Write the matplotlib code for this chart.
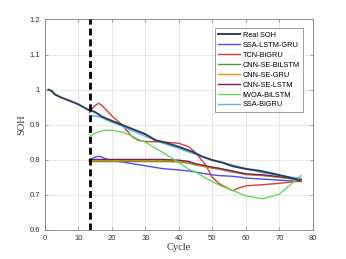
import matplotlib
matplotlib.use("Agg")
import matplotlib.pyplot as plt

real_x = [1, 2, 3, 5, 8, 10, 13, 15, 17, 20, 25, 30, 33, 36, 40, 44, 47, 50, 53, 56, 60, 64, 68, 72, 76]
real_y = [1.0, 0.996, 0.986, 0.977, 0.966, 0.958, 0.942, 0.936, 0.923, 0.911, 0.892, 0.873, 0.856, 0.849, 0.837, 0.823, 0.809, 0.799, 0.792, 0.782, 0.774, 0.769, 0.761, 0.752, 0.742]

px = [13.3, 14, 15, 16, 17, 18, 20, 23, 26, 28, 30, 35, 40, 43, 45, 48, 50, 52, 54, 56, 58, 60, 65, 70, 76.5]

ssa_lstm_gru = [0.795, 0.803, 0.808, 0.81, 0.808, 0.803, 0.797, 0.794, 0.789, 0.786, 0.783, 0.775, 0.771, 0.768, 0.765, 0.76, 0.757, 0.755, 0.754, 0.753, 0.751, 0.748, 0.745, 0.742, 0.738]
tcn_bigru = [0.935, 0.945, 0.955, 0.961, 0.955, 0.945, 0.925, 0.9, 0.866, 0.855, 0.852, 0.851, 0.847, 0.837, 0.82, 0.785, 0.75, 0.732, 0.722, 0.712, 0.72, 0.726, 0.729, 0.733, 0.74]
cnn_se_bilstm = [0.795, 0.795, 0.795, 0.795, 0.795, 0.795, 0.795, 0.795, 0.795, 0.795, 0.795, 0.795, 0.794, 0.79, 0.785, 0.78, 0.776, 0.773, 0.769, 0.765, 0.762, 0.758, 0.755, 0.75, 0.742]
cnn_se_gru = [0.798, 0.798, 0.798, 0.798, 0.798, 0.798, 0.798, 0.798, 0.798, 0.798, 0.798, 0.798, 0.797, 0.793, 0.787, 0.781, 0.778, 0.775, 0.771, 0.767, 0.763, 0.759, 0.756, 0.751, 0.743]
cnn_se_lstm = [0.801, 0.801, 0.801, 0.801, 0.801, 0.801, 0.801, 0.801, 0.801, 0.801, 0.801, 0.801, 0.799, 0.795, 0.789, 0.783, 0.779, 0.776, 0.772, 0.768, 0.764, 0.76, 0.757, 0.752, 0.744]
iwoa_bilstm = [0.866, 0.871, 0.876, 0.879, 0.882, 0.884, 0.884, 0.879, 0.868, 0.858, 0.85, 0.822, 0.792, 0.773, 0.765, 0.748, 0.738, 0.728, 0.72, 0.713, 0.705, 0.697, 0.689, 0.702, 0.755]
ssa_bigru = [0.921, 0.924, 0.925, 0.923, 0.92, 0.915, 0.907, 0.896, 0.883, 0.875, 0.867, 0.848, 0.832, 0.822, 0.816, 0.806, 0.8, 0.795, 0.79, 0.785, 0.78, 0.775, 0.763, 0.755, 0.747]

split_x = 13.3

plt.rcParams['font.family'] = ['Liberation Sans', 'DejaVu Sans']
fig = plt.figure(figsize=(3.46, 2.59), dpi=100)
ax = fig.add_axes([0.130, 0.112, 0.774, 0.813])

lw = 1.0
ax.plot(real_x, real_y, color='#2b405e', lw=1.4, label='Real SOH', zorder=5)
ax.plot(px, ssa_lstm_gru, color='#4b4bff', lw=lw, label='SSA-LSTM-GRU')
ax.plot(px, tcn_bigru, color='#de3a30', lw=lw, label='TCN-BiGRU')
ax.plot(px, cnn_se_bilstm, color='#4e9a2e', lw=lw, label='CNN-SE-BiLSTM')
ax.plot(px, cnn_se_gru, color='#ff8c00', lw=lw, label='CNN-SE-GRU')
ax.plot(px, cnn_se_lstm, color='#7d1a62', lw=lw, label='CNN-SE-LSTM')
ax.plot(px, iwoa_bilstm, color='#62dc55', lw=lw, label='IWOA-BiLSTM')
ax.plot(px, ssa_bigru, color='#62b4e8', lw=lw, label='SSA-BiGRU')
ax.axvline(split_x, color='black', lw=2.0, ls=(0, (2.5, 1.4)), zorder=6)

ax.set_xlim(0, 80)
ax.set_ylim(0.6, 1.2)
ax.set_xticks(range(0, 81, 10))
ax.set_yticks([0.6, 0.7, 0.8, 0.9, 1.0, 1.1, 1.2])
ax.set_yticklabels(['0.6', '0.7', '0.8', '0.9', '1', '1.1', '1.2'])
ax.grid(True, color='#e3e3e3', lw=0.6)
ax.set_axisbelow(True)
ax.tick_params(labelsize=5.5, colors='#808080', labelcolor='#333333', length=2.5, width=0.5,
               direction='in', top=True, right=True)
for s in ax.spines.values():
    s.set_color('#808080')
    s.set_linewidth(0.6)
ax.set_xlabel('Cycle', family=['Liberation Serif'], fontsize=7.5, color='#333333', labelpad=1)
ax.set_ylabel('SOH', family=['Liberation Serif'], fontsize=7.5, color='#333333', labelpad=2)

leg = ax.legend(loc='upper right', fontsize=5.3, frameon=True, fancybox=False,
                edgecolor='#555555', handlelength=3.0, borderpad=0.45, labelspacing=0.38,
                handletextpad=0.35, bbox_to_anchor=(0.978, 0.975))
leg.get_frame().set_linewidth(0.5)

fig.savefig('out.png', dpi=100)
